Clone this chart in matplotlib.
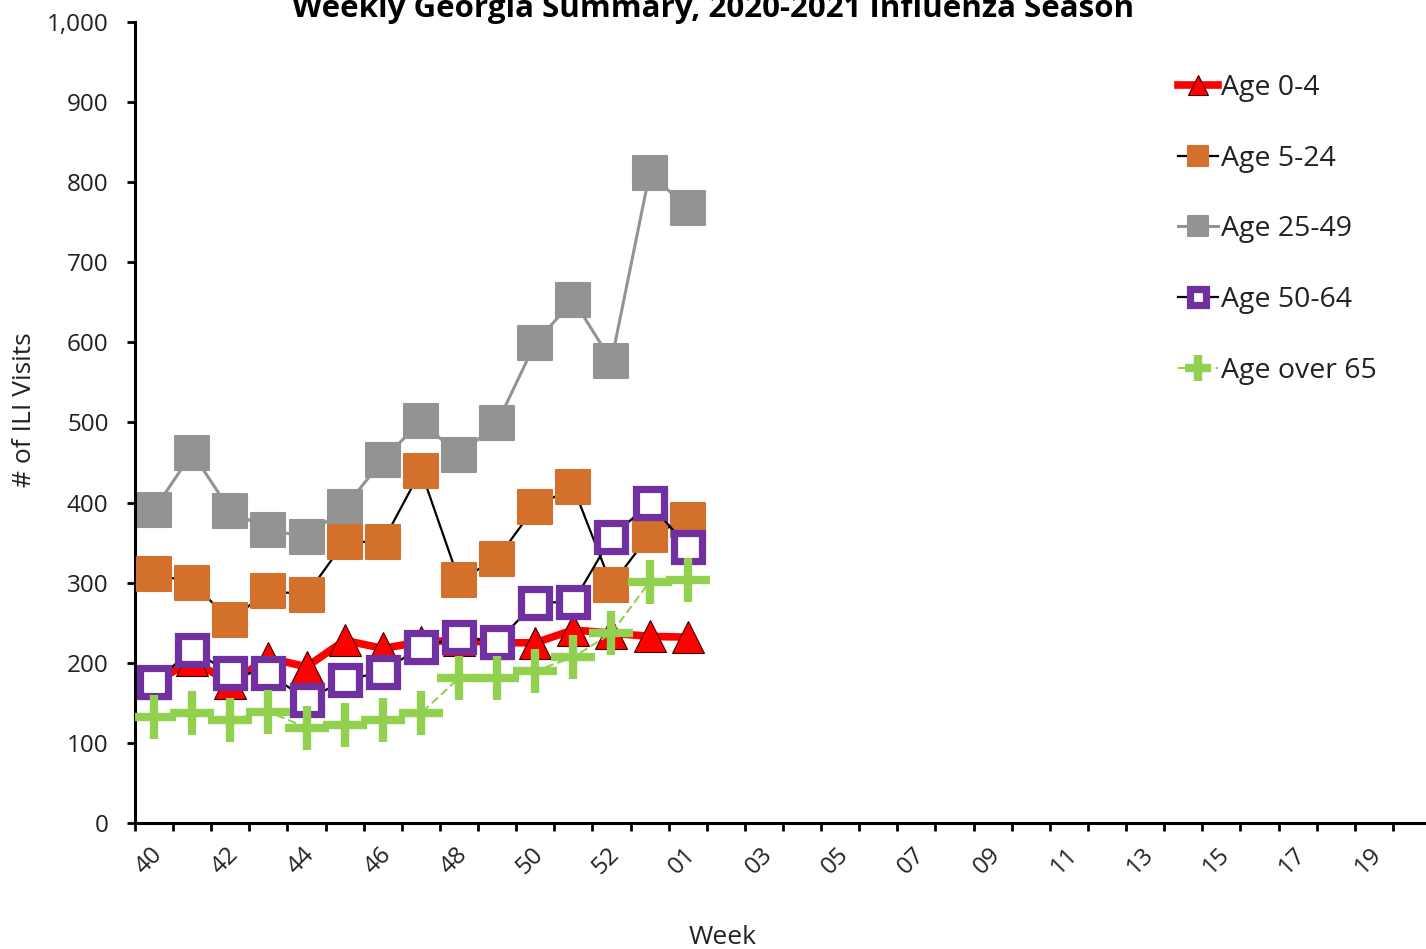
import matplotlib
matplotlib.use("Agg")
import matplotlib.pyplot as plt
from matplotlib.markers import MarkerStyle
from matplotlib.transforms import ScaledTranslation

plt.rcParams['font.family'] = ['Open Sans', 'DejaVu Sans']

weeks = [str(w) for w in range(40, 54)] + ["%02d" % w for w in range(1, 21)]
label_weeks = ["40", "42", "44", "46", "48", "50", "52", "01", "03", "05",
               "07", "09", "11", "13", "15", "17", "19"]

age_0_4 = [175, 203, 175, 206, 195, 228, 218, 226, 228, 225, 225, 241, 237, 233, 232]
age_5_24 = [311, 300, 253, 290, 285, 351, 351, 440, 303, 330, 395, 419, 297, 360, 378]
age_25_49 = [391, 462, 390, 366, 357, 394, 453, 502, 459, 499, 599, 653, 577, 811, 768]
age_50_64 = [176, 216, 187, 187, 154, 178, 189, 220, 232, 226, 275, 276, 357, 399, 345]
age_65 = [132, 137, 129, 139, 119, 122, 129, 137, 181, 181, 190, 207, 237, 301, 303]

W, H = 1426, 949
fig = plt.figure(figsize=(W / 100, H / 100), dpi=100)
ax = fig.add_axes([135 / W, 1 - 823 / H, (1431 - 135) / W, (823 - 22) / H])

x = list(range(len(age_0_4)))
sq = MarkerStyle('s', joinstyle='round')

ax.plot(x, age_25_49, color='#939393', lw=2.2, marker=sq, ms=24, mfc='#939393',
        mec='#939393', mew=1.5, zorder=2, label='Age 25-49')
ax.plot(x, age_5_24, color='black', lw=1.6, marker=sq, ms=24, mfc='#D2702C',
        mec='#D2702C', mew=1.5, zorder=3, label='Age 5-24')
ax.plot(x, age_0_4, color='#FF0000', lw=5.5, marker='^', ms=23, mfc='#FF0000',
        mec='#3a0000', mew=0.8, zorder=4, label='Age 0-4')
ax.plot(x, age_50_64, color='black', lw=1.6, marker='s', ms=20, mfc='white',
        mec='#7030A0', mew=5.2, zorder=5, label='Age 50-64')
ax.plot(x, age_65, color='#92D050', lw=1.5, ls=(0, (4, 2)), marker='+', ms=31,
        mec='#92D050', mew=6, zorder=6, label='Age over 65')

ax.set_xlim(-0.5, len(weeks) - 0.5)
ax.set_ylim(0, 1000)
ax.set_yticks(range(0, 1001, 100))
ax.set_yticklabels(["{:,}".format(v) for v in range(0, 1001, 100)])

pos = [weeks.index(w) for w in label_weeks]
ax.set_xticks(pos)
ax.set_xticklabels(label_weeks, rotation=45)
ax.set_xticks([i - 0.5 for i in range(len(weeks) + 1)], minor=True)
ax.tick_params(axis='x', which='major', length=0, pad=14, labelsize=17.5, labelcolor='#222222')
ax.tick_params(axis='x', which='minor', length=6, width=2, direction='out', color='black')
ax.tick_params(axis='y', length=6, width=2, direction='out', labelsize=17.5,
               labelcolor='#222222', pad=13)
off = ScaledTranslation(-5 / 100, 0, fig.dpi_scale_trans)
for lab in ax.get_xticklabels():
    lab.set_transform(lab.get_transform() + off)

for s in ['top', 'right']:
    ax.spines[s].set_visible(False)
for s in ['left', 'bottom']:
    ax.spines[s].set_linewidth(2.2)

fig.text(723 / W, 1 - 937 / H, 'Week', ha='center', va='center', fontsize=19, color='#222222')
fig.text(25 / W, 1 - 410 / H, '# of ILI Visits', ha='center', va='center', rotation=90,
         fontsize=19, color='#222222')
fig.text(0.5, 1 - 17 / H, 'Weekly Georgia Summary, 2020-2021 Influenza Season',
         ha='center', va='baseline', fontsize=22.5, fontweight='bold', color='black')

handles, labels = ax.get_legend_handles_labels()
order = ['Age 0-4', 'Age 5-24', 'Age 25-49', 'Age 50-64', 'Age over 65']
hmap = dict(zip(labels, handles))
leg = fig.legend([hmap[o] for o in order], order, loc='upper left',
                 bbox_to_anchor=(1178 / W, 1 - 74 / H), frameon=False, fontsize=20.5,
                 markerscale=0.6, handlelength=1.4, handletextpad=0.12,
                 labelspacing=1.5, borderpad=0, borderaxespad=0)
for t in leg.get_texts():
    t.set_color('#222222')

fig.savefig('out.png', dpi=100)
